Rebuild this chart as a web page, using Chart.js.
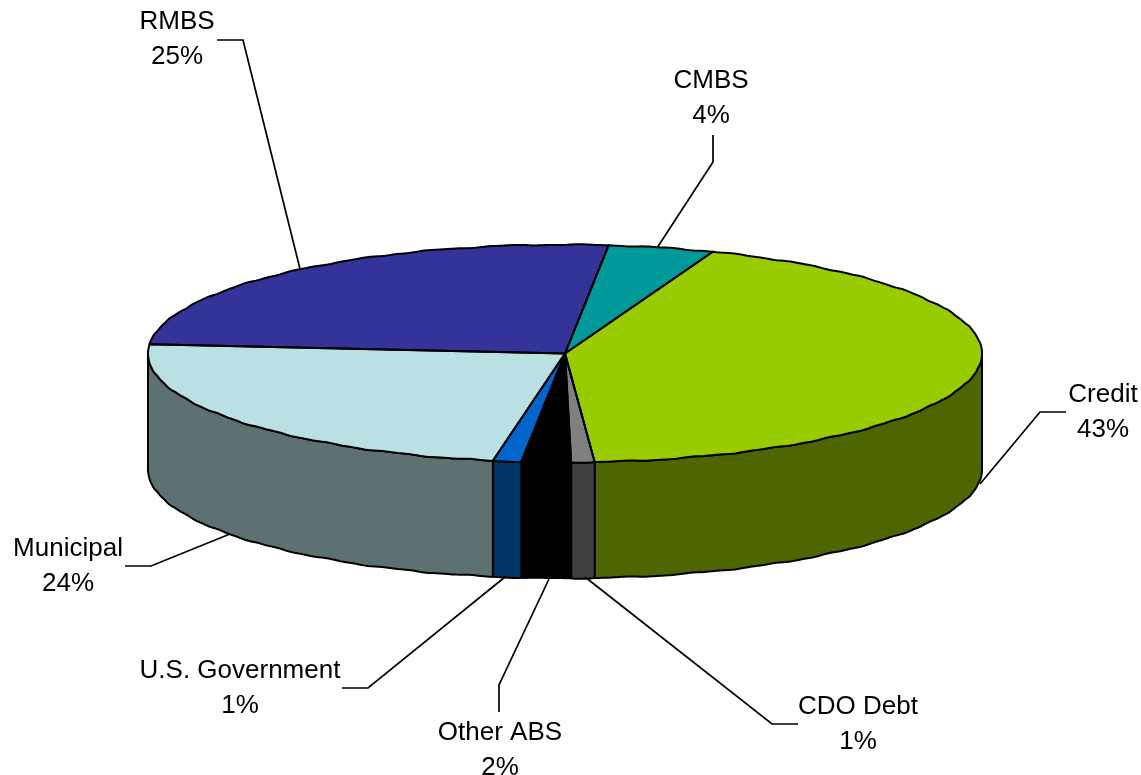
<!DOCTYPE html>
<html>
<head>
<meta charset="utf-8">
<title>Portfolio</title>
<script src="https://cdn.jsdelivr.net/npm/chart.js@4"></script>
<style>
html, body { margin: 0; padding: 0; background: #fff; overflow: hidden; }
canvas { display: block; }
</style>
</head>
<body>
<canvas id="myChart" width="1141" height="775"></canvas>
<script>
const categories = ['CMBS', 'Credit', 'CDO Debt', 'Other ABS', 'U.S. Government', 'Municipal', 'RMBS'];
// the printed labels are these rounded
const values = [4.1, 43.1, 0.9, 1.9, 1.1, 23.6, 25.3];
const topColors = ['#009999', '#99CC00', '#808080', '#000000', '#0066CC', '#B9E0E3', '#333399'];
const sideColors = ['#004D4D', '#4D6600', '#404040', '#000000', '#003366', '#5D7072', '#1A1A4D'];

// label centre x, first baseline, then leader line points, same order as categories
const labelPos = [
    { x: 711, y: 88, line: [[713, 135], [713, 162], [657, 248]] },
    { x: 1103, y: 402, line: [[1066, 412], [1040, 412], [980, 484]] },
    { x: 858, y: 714, line: [[798, 724], [772, 724], [585, 577]] },
    { x: 500, y: 740, line: [[499, 712], [499, 685], [549, 579]] },
    { x: 240, y: 678, line: [[342, 688], [368, 688], [505, 577]] },
    { x: 68, y: 556, line: [[125, 566], [151, 566], [230, 534]] },
    { x: 177, y: 29, line: [[217, 40], [243, 40], [300, 269]] }
];

const squash = 0.261;
const depth = 116;

// the rim in the original is slightly wavy, walk it in small steps
function rim(ctx, cx, cy, r, a0, a1) {
    const steps = Math.max(2, Math.ceil(Math.abs(a1 - a0) / 0.01));
    for (let s = 0; s <= steps; s++) {
        const a = a0 + (a1 - a0) * s / steps;
        const px = cx + r * Math.cos(a);
        const py = cy + r * squash * Math.sin(a);
        const edge = (s == 0 || s == steps) ? 0 : 0.4 * Math.sin(a * 34) + 0.2 * Math.sin(a * 83);
        ctx.lineTo(px, py + edge);
    }
}

// chart.js has no 3d pie, so flatten the normal pie and add the wall under it
const pie3d = {
    id: 'pie3d',
    beforeDatasetsDraw(chart) {
        const ctx = chart.ctx;
        const arcs = chart.getDatasetMeta(0).data;
        const cx = arcs[0].x, cy = arcs[0].y, r = arcs[0].outerRadius;

        ctx.save();
        ctx.lineWidth = 2;
        ctx.strokeStyle = '#000';
        ctx.lineJoin = 'round';
        arcs.forEach(function (arc, i) {
            let a0 = arc.startAngle, a1 = arc.endAngle;
            if (a1 <= 0 || a0 >= Math.PI) return;
            a0 = Math.max(a0, 0);
            a1 = Math.min(a1, Math.PI);
            ctx.beginPath();
            rim(ctx, cx, cy, r, a0, a1);
            rim(ctx, cx, cy + depth, r, a1, a0);
            ctx.closePath();
            ctx.fillStyle = sideColors[i];
            ctx.fill();
            ctx.stroke();
        });
        ctx.restore();

        ctx.save();
        ctx.translate(cx, cy);
        ctx.scale(1, squash);
        ctx.translate(-cx, -cy);
    },
    afterDatasetsDraw(chart) {
        const ctx = chart.ctx;
        ctx.restore();

        const arcs = chart.getDatasetMeta(0).data;
        ctx.save();
        ctx.lineWidth = 2;
        ctx.strokeStyle = '#000';
        ctx.lineJoin = 'round';
        arcs.forEach(function (arc) {
            ctx.beginPath();
            ctx.moveTo(arc.x, arc.y);
            rim(ctx, arc.x, arc.y, arc.outerRadius, arc.startAngle, arc.endAngle);
            ctx.closePath();
            ctx.stroke();
        });
        ctx.restore();

        drawLabels(chart);
    }
};

function drawLabels(chart) {
    const ctx = chart.ctx;
    ctx.save();
    ctx.strokeStyle = '#000';
    ctx.lineWidth = 1.7;
    labelPos.forEach(function (p) {
        ctx.beginPath();
        p.line.forEach(function (pt, k) {
            if (k == 0) ctx.moveTo(pt[0], pt[1]);
            else ctx.lineTo(pt[0], pt[1]);
        });
        ctx.stroke();
    });
    ctx.fillStyle = '#000';
    ctx.font = '26px "Liberation Sans", Arial, sans-serif';
    ctx.textAlign = 'center';
    ctx.textBaseline = 'alphabetic';
    labelPos.forEach(function (p, i) {
        ctx.fillText(categories[i], p.x, p.y);
        ctx.fillText(Math.round(values[i]) + '%', p.x, p.y + 35);
    });
    ctx.restore();
}

new Chart(document.getElementById('myChart'), {
    type: 'pie',
    data: {
        labels: categories,
        datasets: [{
            data: values,
            backgroundColor: topColors,
            borderWidth: 0,
            clip: false
        }]
    },
    options: {
        responsive: false,
        animation: false,
        rotation: 6,
        radius: 417,
        layout: { padding: { left: 0, right: 11, top: 0, bottom: 68 } },
        plugins: {
            legend: { display: false },
            tooltip: { enabled: false }
        }
    },
    plugins: [pie3d]
});
</script>
</body>
</html>
